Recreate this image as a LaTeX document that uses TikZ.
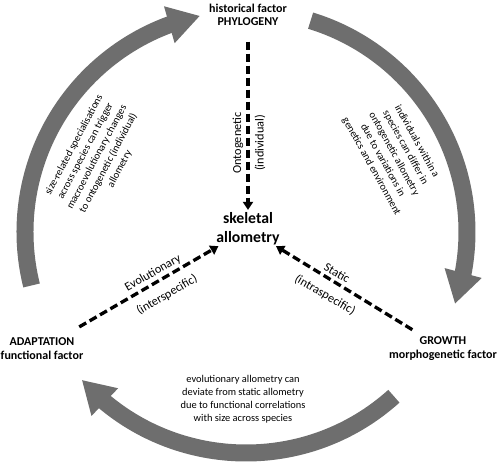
\documentclass[tikz,border=0pt]{standalone}
\usepackage{fontspec}
\setmainfont{Carlito}
\usepackage{xcolor}
\usepackage{tikz}
\usetikzlibrary{arrows.meta,bending}
\definecolor{cyclegray}{RGB}{110,110,110}
\tikzstyle{factor}=[align=center,inner sep=1pt,font=\fontsize{9}{10}\selectfont\bfseries]
\tikzstyle{centre}=[align=center,inner sep=0pt,font=\fontsize{11.8}{14.2}\selectfont\bfseries]
\tikzstyle{note}=[align=center,inner sep=0pt,font=\fontsize{7.8}{9.7}\selectfont]
\tikzstyle{kind}=[inner sep=0pt,font=\fontsize{9.2}{11}\selectfont]
\tikzstyle{link}=[line width=2.5pt,dash pattern=on 6pt off 3pt,-{Triangle[width=7.5pt,length=6pt]}]
\tikzstyle{bigarrow}=[cyclegray,line width=12.75pt,-{Triangle[width=27pt,length=24pt]}]

\begin{document}
\begin{tikzpicture}[x=0.75pt,y=0.75pt]
        \useasboundingbox (-246,-230) rectangle (254,232);
        % the three factors and the centre
        \node at (   2, 217.5) [factor] (phylo) {historical factor\\PHYLOGENY};
        \node at (-204,-116.5) [factor] (adapt) {ADAPTATION\\functional factor};
        \node at ( 197,-116.5) [factor] (growth) {GROWTH\\morphogenetic factor};
        \node at (   2,   3) [centre] (skel) {skeletal\\allometry};
        % kinds of allometry
        \draw [link,shorten <=11pt,shorten >=2pt] (phylo) -- (skel);
        \draw [link,shorten <=14pt,shorten >=1pt] (adapt) -- (skel);
        \draw [link,shorten <=8pt,shorten >=1pt] (growth) -- (skel);
        \node at (  -8,  89) [kind,rotate=90] (onto) {Ontogenetic};
        \node at (  14,  89) [kind,rotate=90] (indiv) {(individual)};
        \node at ( -93, -41) [kind,rotate=30] (evo) {Evolutionary};
        \node at ( -79, -63) [kind,rotate=30] (inter) {(interspecific)};
        \node at (  91, -41) [kind,rotate=-30] (stat) {Static};
        \node at (  79, -63) [kind,rotate=-30] (intra) {(intraspecific)};
        % the cycle
        \draw [bigarrow] (194:221) arc (194:102:221);
        \draw [bigarrow] (73:221) arc (73:-19:221);
        \draw [bigarrow] (-48:221) arc (-48:-138:221);
        \node at (-149,  75) [note,rotate=62] (trigger) {size-related specialisations\\across species can trigger\\macroevolutionary changes\\to ontogenetic (individual)\\allometry};
        \node at ( 148,  78) [note,rotate=-61] (differ) {individuals within a\\species can differ in\\ontogenetic allometry\\due to variations in\\genetics and environment};
        \node at (  -3,-167) [note] (deviate) {evolutionary allometry can\\deviate from static allometry\\due to functional correlations\\with size across species};
\end{tikzpicture}
\end{document}
